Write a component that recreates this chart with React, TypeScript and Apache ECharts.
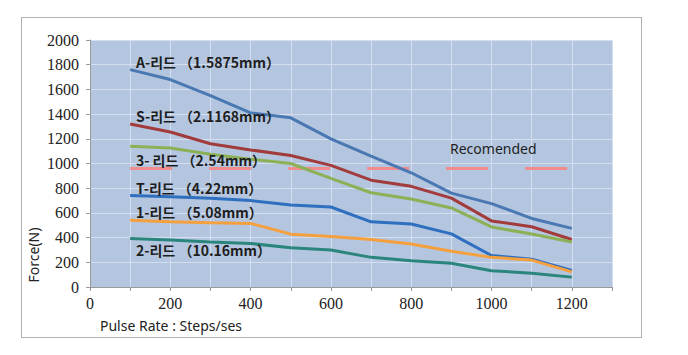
import React, { useEffect, useRef } from "react";
import * as echarts from "echarts";

const pulseRates = [100, 200, 300, 400, 500, 600, 700, 800, 900, 1000, 1100, 1200];
const leadA = [1760, 1680, 1550, 1410, 1370, 1200, 1060, 925, 760, 675, 555, 475];
const leadS = [1320, 1255, 1160, 1110, 1065, 985, 865, 815, 720, 535, 488, 385];
const lead3 = [1140, 1125, 1075, 1035, 1000, 880, 763, 713, 640, 486, 429, 365];
const leadT = [740, 730, 718, 700, 664, 648, 528, 510, 430, 255, 225, 135];
const lead1 = [540, 528, 520, 515, 428, 408, 385, 348, 290, 240, 218, 122];
const lead2 = [393, 380, 365, 352, 318, 300, 240, 213, 192, 132, 112, 80];
const recommended = 960;
const recommendedRange = [100, 1200];

const seriesNames = [
  "A-리드 （1.5875mm）",
  "S-리드 （2.1168mm）",
  "3- 리드 （2.54mm）",
  "T-리드 （4.22mm）",
  "1-리드 （5.08mm）",
  "2-리드 （10.16mm）",
];
const seriesData = [leadA, leadS, lead3, leadT, lead1, lead2];
const seriesColors = ["#4a78b2", "#a23c3c", "#8cb055", "#2f6fc0", "#f5a03f", "#2a857c"];

export default function App() {
  const ref = useRef<HTMLDivElement>(null);
  useEffect(() => {
    document.body.style.margin = "0";
    const chart = echarts.init(ref.current!, undefined, { renderer: "svg" });
    const labelPos = [
      [136, 62],
      [136, 116],
      [136, 160],
      [136, 188],
      [136, 212],
      [136, 250],
    ];
    const series: any[] = seriesData.map((d, i) => ({
      type: "line",
      name: seriesNames[i],
      data: d.map((v, j) => [pulseRates[j], v]),
      showSymbol: false,
      symbol: "none",
      lineStyle: { color: seriesColors[i], width: 3 },
      z: 3,
    }));
    series.unshift({
      type: "line",
      name: "Recomended",
      data: recommendedRange.map((x) => [x, recommended]),
      symbol: "none",
      lineStyle: { color: "#f08c8c", width: 3, type: [42, 37] },
      z: 2,
    });
    const serif = "serif";
    chart.setOption({
      animation: false,
      backgroundColor: "transparent",
      textStyle: { fontFamily: "serif" },
      grid: { left: 90, top: 40, right: 76, bottom: 68, show: true, backgroundColor: "#b4c6df", borderWidth: 0 },
      xAxis: {
        type: "value",
        min: 0,
        max: 1300,
        interval: 100,
        axisLine: { lineStyle: { color: "#9a9a9a", width: 1 } },
        axisTick: { show: true, length: 4, lineStyle: { color: "#9a9a9a" } },
        axisLabel: {
          margin: 8,
          color: "#222",
          fontFamily: serif,
          fontSize: 16,
          formatter: (v: number) => (v % 200 === 0 && v <= 1200 ? String(v) : ""),
        },
        splitLine: { show: true, lineStyle: { color: "#d4deee", width: 1 } },
      },
      yAxis: {
        type: "value",
        min: 0,
        max: 2000,
        interval: 200,
        axisLine: { show: true, lineStyle: { color: "#9a9a9a", width: 1 } },
        axisTick: { show: true, length: 4, lineStyle: { color: "#9a9a9a" } },
        axisLabel: { margin: 11, color: "#222", fontFamily: serif, fontSize: 16, formatter: (v: number) => String(v) },
        splitLine: { show: true, lineStyle: { color: "#d4deee", width: 1 } },
      },
      series,
      graphic: [
        ...seriesNames.map((n, i) => ({
          type: "text",
          x: labelPos[i][0],
          y: labelPos[i][1],
          z: 10,
          style: {
            text: n,
            fill: "#1e1e1e",
            fontFamily: "'Noto Sans CJK KR', sans-serif",
            fontWeight: "bold",
            fontSize: 14,
            verticalAlign: "middle",
          },
        })),
        {
          type: "text",
          x: 450,
          y: 148,
          z: 10,
          style: {
            text: "Recomended",
            fill: "#1e1e1e",
            fontFamily: "'Noto Sans', sans-serif",
            fontSize: 14,
            verticalAlign: "middle",
          },
        },
        {
          type: "text",
          x: 100,
          y: 325,
          style: {
            text: "Pulse Rate : Steps/ses",
            fill: "#222",
            fontFamily: "'Noto Sans', sans-serif",
            fontSize: 14,
            verticalAlign: "middle",
          },
        },
        {
          type: "text",
          x: 33,
          y: 255,
          rotation: Math.PI / 2,
          style: {
            text: "Force(N)",
            fill: "#222",
            fontFamily: "'Noto Sans', sans-serif",
            fontSize: 14,
            align: "center",
            verticalAlign: "middle",
          },
        },
      ],
    });
    return () => chart.dispose();
  }, []);
  return (
    <div style={{ position: "relative", width: 688, height: 355, background: "#fff" }}>
      <div
        style={{
          position: "absolute",
          left: 21,
          top: 17,
          width: 619,
          height: 319,
          border: "1px solid #b0b0b0",
          background: "#fff",
        }}
      />
      <div ref={ref} style={{ position: "absolute", left: 0, top: 0, width: 688, height: 355 }} />
    </div>
  );
}
